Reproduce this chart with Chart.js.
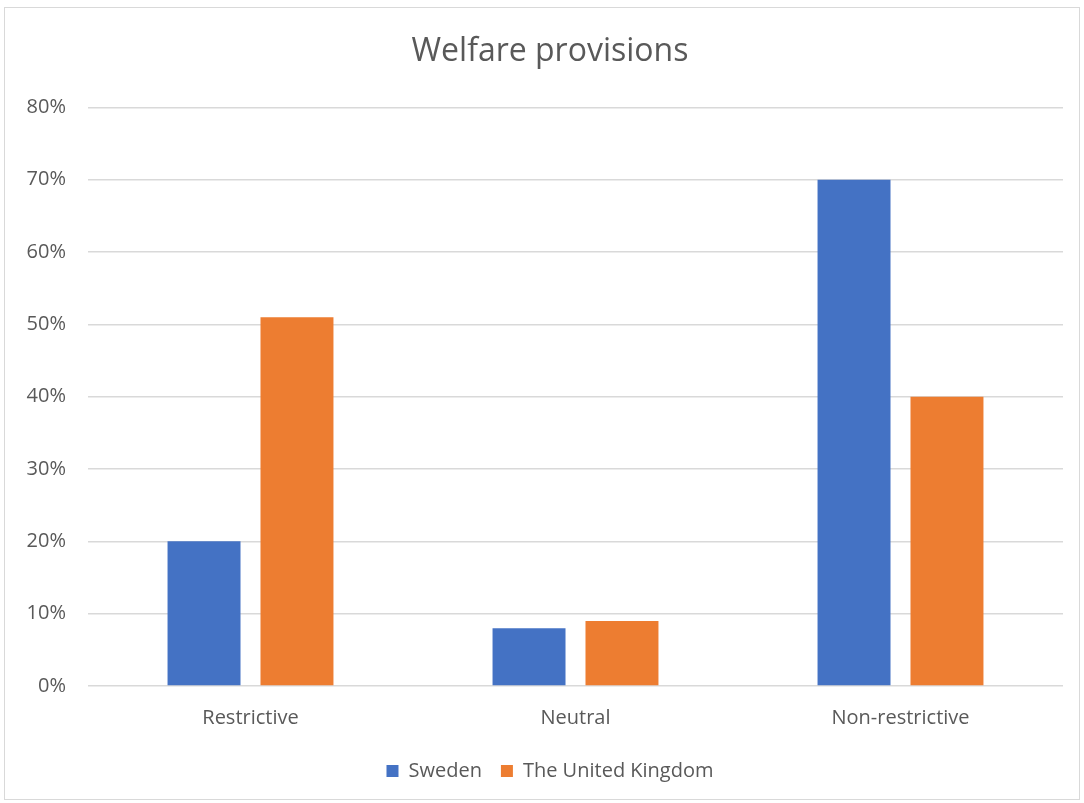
<!DOCTYPE html>
<html>
<head>
<meta charset="utf-8">
<script src="https://cdn.jsdelivr.net/npm/chart.js@4"></script>
<style>
html,body{margin:0;padding:0;background:#fff;}
#wrap{position:relative;width:1084px;height:803px;}
</style>
</head>
<body>
<div id="wrap"><canvas id="c" width="1084" height="803"></canvas></div>
<script>
const categories = ["Restrictive", "Neutral", "Non-restrictive"];
const sweden = [20, 8, 70];
const uk = [51, 9, 40];
const seriesNames = ["Sweden", "The United Kingdom"];
const yTicks = [0, 10, 20, 30, 40, 50, 60, 70, 80];
const chartTitle = "Welfare provisions";

const FONT = "'Open Sans', 'Liberation Sans', sans-serif";
const borderPlugin = {
  id: 'frame',
  beforeDraw(chart) {
    const ctx = chart.ctx;
    ctx.save();
    ctx.fillStyle = '#ffffff';
    ctx.fillRect(0, 0, chart.width, chart.height);
    ctx.strokeStyle = '#d9d9d9';
    ctx.lineWidth = 1;
    ctx.strokeRect(4.5, 7.5, 1075, 792);
    ctx.restore();
  }
};

new Chart(document.getElementById('c'), {
  type: 'bar',
  data: {
    labels: categories,
    datasets: [
      { label: seriesNames[0], data: sweden, backgroundColor: '#4472c4', categoryPercentage: 0.572, barPercentage: 0.785 },
      { label: seriesNames[1], data: uk, backgroundColor: '#ed7d31', categoryPercentage: 0.572, barPercentage: 0.785 }
    ]
  },
  plugins: [borderPlugin],
  options: {
    responsive: false,
    animation: false,
    layout: { padding: { left: 10, right: -6, top: 33, bottom: 12 } },
    plugins: {
      title: {
        display: true,
        text: chartTitle,
        color: '#595959',
        font: { family: FONT, size: 32, weight: 'normal' },
        padding: { top: 0, bottom: 36 }
      },
      legend: {
        position: 'bottom',
        labels: {
          color: '#595959',
          font: { family: FONT, size: 20 },
          boxWidth: 12,
          boxHeight: 12,
          padding: 19
        }
      },
      tooltip: { enabled: false }
    },
    scales: {
      x: {
        grid: { display: false },
        border: { display: false },
        ticks: { color: '#595959', font: { family: FONT, size: 20 }, padding: 12 }
      },
      y: {
        min: 0,
        max: 80,
        afterBuildTicks(axis) { axis.ticks = yTicks.map(v => ({ value: v })); },
        afterFit(axis) { axis.width = 78; },
        grid: { color: '#d9d9d9', lineWidth: 1.5, drawTicks: false },
        border: { display: false },
        ticks: {
          color: '#595959',
          font: { family: FONT, size: 20 },
          padding: 22,
          callback: v => v + '%'
        }
      },
      ySpacer: {
        position: 'right',
        min: 0,
        max: 80,
        afterFit(axis) { axis.width = 27; },
        grid: { display: false, drawTicks: false },
        border: { display: false },
        ticks: { display: false }
      }
    }
  }
});
</script>
</body>
</html>
